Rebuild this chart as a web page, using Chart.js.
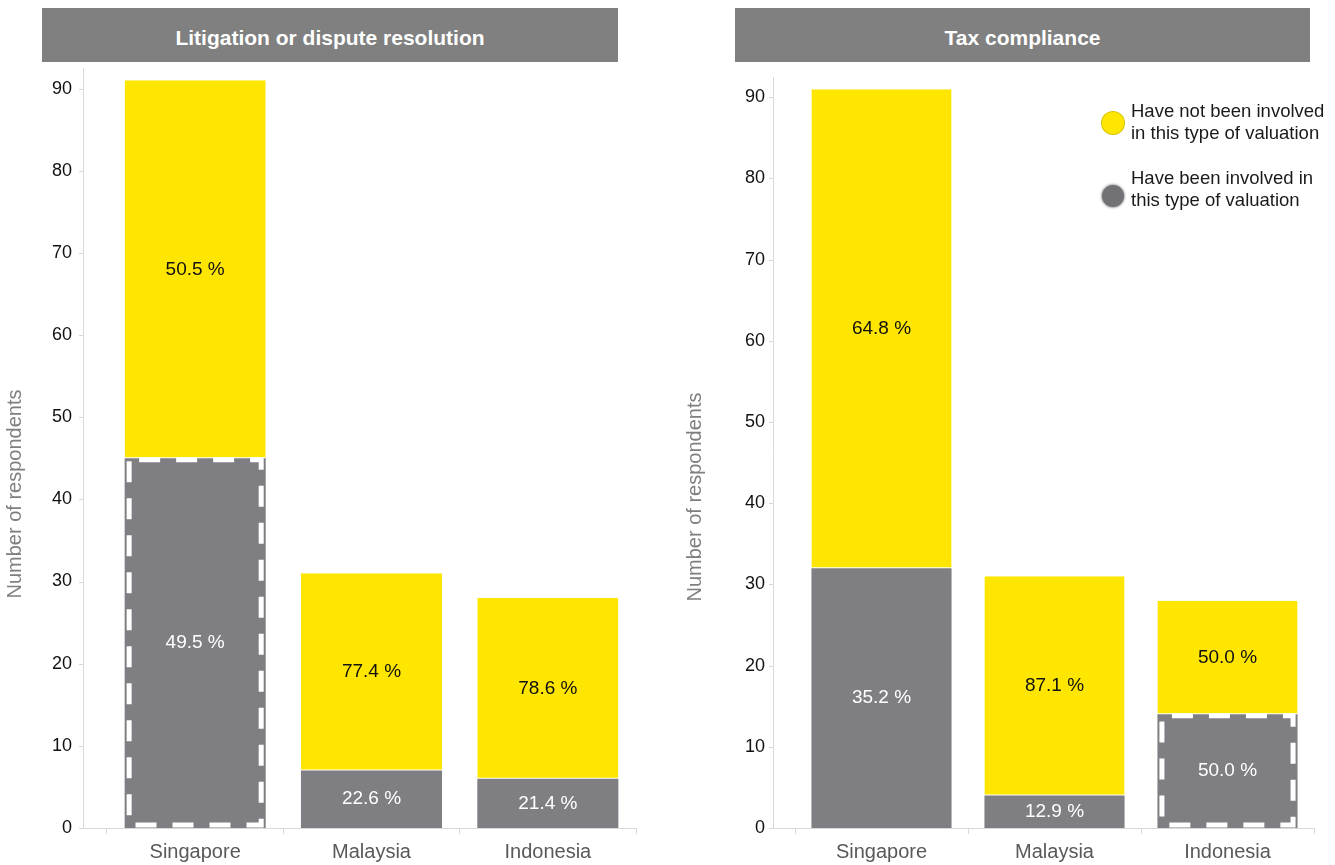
<!DOCTYPE html><html lang="en"><head>
<meta charset="utf-8">
<script src="https://cdn.jsdelivr.net/npm/chart.js@4.4.1/dist/chart.umd.min.js"></script>
<style>
  body { margin:0; background:#fff; font-family:"Liberation Sans", Arial, sans-serif; }
  .head { position:absolute; top:8px; height:54px; background:#808080; color:#fff;
          font-weight:bold; font-size:21px; line-height:60px; text-align:center; }
  canvas { position:absolute; top:62px; }
  .leg { position:absolute; font-size:18.5px; line-height:22px; color:#1a1a1a; white-space:nowrap; }
  .dot { position:absolute; width:22px; height:22px; border-radius:50%; }
</style>
</head>
<body>
<div class="head" style="left:42px;width:576px">Litigation or dispute resolution</div>
<div class="head" style="left:735px;width:575px">Tax compliance</div>
<canvas id="lit" width="660" height="803" style="left:0px;width:660px;height:803px"></canvas>
<canvas id="tax" width="655" height="803" style="left:680px;width:655px;height:803px"></canvas>

<div class="dot" style="left:1102px;top:112px;background:#ffe600;box-shadow:0 0 0 1px #d8c400"></div>
<div class="leg" style="left:1131px;top:100px">Have not been involved<br>in this type of valuation</div>
<div class="dot" style="left:1102px;top:185px;background:#727175;box-shadow:0 0 2px 1px #aaa"></div>
<div class="leg" style="left:1131px;top:167px">Have been involved in<br>this type of valuation</div>

<script>
const countries = ['Singapore', 'Malaysia', 'Indonesia'];
const seriesNames = ['Have been involved in this type of valuation', 'Have not been involved in this type of valuation'];

// litigation or dispute resolution
const litInvolved = [45, 7, 6];
const litNotInvolved = [46, 24, 22];
const litInvolvedPct = ['49.5 %', '22.6 %', '21.4 %'];
const litNotPct = ['50.5 %', '77.4 %', '78.6 %'];
const litDashed = [0];

// tax compliance
const taxInvolved = [32, 4, 14];
const taxNotInvolved = [59, 27, 14];
const taxInvolvedPct = ['35.2 %', '12.9 %', '50.0 %'];
const taxNotPct = ['64.8 %', '87.1 %', '50.0 %'];
const taxDashed = [2];

const yTickValues = [0, 10, 20, 30, 40, 50, 60, 70, 80, 90];
const yTitle = 'Number of respondents';

const YELLOW = '#ffe600';
const GREY = '#7f7e83';
const FONT = '"Liberation Sans", Arial, sans-serif';

const extrasPlugin = {
  id: 'extras',
  afterDraw(chart) {
    const o = chart.options.plugins.extras;
    const ctx = chart.ctx;
    const ca = chart.chartArea;
    const ys = chart.scales.y;
    const axX = ca.left - o.axisShift;
    ctx.save();
    // y axis line and tiny ticks
    ctx.strokeStyle = '#d9d9d9';
    ctx.lineWidth = 1;
    ctx.beginPath();
    ctx.moveTo(axX + 0.5, ca.top);
    ctx.lineTo(axX + 0.5, ca.bottom);
    ctx.moveTo(axX, ca.bottom + 0.5);
    ctx.lineTo(ca.left, ca.bottom + 0.5);
    ys.ticks.forEach(t => {
      const py = Math.round(ys.getPixelForValue(t.value)) + 0.5;
      ctx.moveTo(axX - 4, py);
      ctx.lineTo(axX, py);
    });
    ctx.stroke();

    // axis title
    ctx.save();
    ctx.translate(15, ca.bottom - o.titleUp);
    ctx.rotate(-Math.PI / 2);
    ctx.font = '20px ' + FONT;
    ctx.fillStyle = '#7f7f7f';
    ctx.textAlign = 'center';
    ctx.textBaseline = 'middle';
    ctx.fillText(yTitle, 0, 0);
    ctx.restore();

    // dashed outlines
    const gm = chart.getDatasetMeta(0);
    o.dashed.forEach(i => {
      const b = gm.data[i];
      const x1 = b.x - b.width / 2 + 4.5, x2 = b.x + b.width / 2 - 4.5;
      const y1 = b.y + 1.5, y2 = b.base - 3;
      ctx.strokeStyle = '#fff';
      ctx.lineWidth = 5;
      ctx.setLineDash([21, 16]);
      ctx.lineDashOffset = 27;
      ctx.beginPath();
      ctx.moveTo(x1, y1); ctx.lineTo(x2, y1); ctx.lineTo(x2, y2);
      ctx.lineTo(x1, y2); ctx.closePath();
      ctx.stroke();
      ctx.setLineDash([]);
      ctx.lineDashOffset = 0;
    });

    // value labels
    ctx.font = '19px ' + FONT;
    ctx.textAlign = 'center';
    ctx.textBaseline = 'middle';
    chart.data.datasets.forEach((ds, di) => {
      chart.getDatasetMeta(di).data.forEach((b, i) => {
        ctx.fillStyle = di === 0 ? '#ffffff' : '#111111';
        ctx.fillText(ds.pctLabels[i], b.x, (b.y + b.base) / 2);
      });
    });
    ctx.restore();
  }
};

function makeChart(id, involved, notInvolved, invPct, notPct, dashed, cfg) {
  return new Chart(document.getElementById(id), {
    type: 'bar',
    data: {
      labels: countries,
      datasets: [
        { label: seriesNames[0], data: involved, pctLabels: invPct, backgroundColor: GREY,
          borderWidth: 0 },
        { label: seriesNames[1], data: notInvolved, pctLabels: notPct, backgroundColor: YELLOW,
          borderColor: '#ffffff', borderWidth: { bottom: 1, top: 0, left: 0, right: 0 }, borderSkipped: false }
      ]
    },
    options: {
      responsive: false,
      animation: false,
      events: [],
      layout: { padding: { top: cfg.top, right: cfg.right, left: 0, bottom: 0 } },
      datasets: { bar: { categoryPercentage: 1, barPercentage: cfg.barPct } },
      plugins: {
        legend: { display: false },
        tooltip: { enabled: false },
        extras: { axisShift: cfg.axisShift, dashed: dashed, titleUp: cfg.titleUp }
      },
      scales: {
        x: {
          stacked: true,
          offset: true,
          grid: { display: true, offset: true, drawOnChartArea: false, tickLength: 6, color: '#d9d9d9' },
          border: { display: true, color: '#d9d9d9' },
          ticks: { padding: 6, color: '#595959', font: { family: FONT, size: 20 } },
          afterFit(s) { s.height = 37; s.paddingLeft = 0; s.paddingRight = 0; }
        },
        y: {
          stacked: true,
          min: 0,
          max: 92.5,
          grid: { display: false, drawTicks: false, tickLength: 0 },
          border: { display: false },
          ticks: { padding: cfg.labelPad, color: '#111', font: { family: FONT, size: 18 } },
          afterBuildTicks(s) { s.ticks = yTickValues.map(v => ({ value: v })); },
          afterFit(s) { s.width = cfg.yWidth; s.paddingTop = 0; s.paddingBottom = 0; }
        }
      }
    },
    plugins: [extrasPlugin]
  });
}

makeChart('lit', litInvolved, litNotInvolved, litInvolvedPct, litNotPct, litDashed,
  { top: 6, right: 24, barPct: 0.8, axisShift: 24, labelPad: 35, yWidth: 107, titleUp: 334 });
makeChart('tax', taxInvolved, taxNotInvolved, taxInvolvedPct, taxNotPct, taxDashed,
  { top: 15, right: 21, barPct: 0.81, axisShift: 22, labelPad: 30, yWidth: 115, titleUp: 331 });
</script>
</body></html>
